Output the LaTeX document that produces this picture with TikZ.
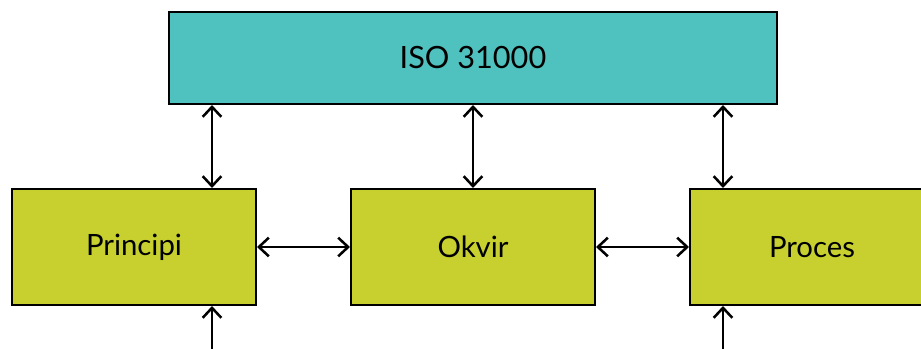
\documentclass[tikz,border=0pt]{standalone}
\usepackage{fontspec}
\setmainfont{Lato}
\usetikzlibrary{arrows.meta}
\definecolor{isoteal}{RGB}{79,193,190}
\definecolor{partgreen}{RGB}{199,208,46}

\begin{document}
\begin{tikzpicture}[x=0.75pt,y=-0.75pt,
    norm/.style ={rectangle, draw, line width=1.5pt, fill=isoteal,
      minimum width=456pt, minimum height=69pt, font=\fontsize{23}{27}\selectfont},
    part/.style ={rectangle, draw, line width=1.5pt, fill=partgreen,
      minimum width=183pt, minimum height=87pt, font=\fontsize{22}{26}\selectfont},
    link/.style ={line width=1.9pt, {Straight Barb[length=7.5pt,width=14pt]}-{Straight Barb[length=7.5pt,width=14pt]}},
    feed/.style ={line width=1.9pt, -{Straight Barb[length=7.5pt,width=14pt]}}]
   \useasboundingbox (0,0) rectangle (921,349);
   \node[norm] (iso) at (473,58) {ISO 31000};
   \node[part] (P) at (134,247) {Principi};
   \node[part] (O) at (473,247) {Okvir};
   \node[part] (R) at (812,247) {Proces};
   \coordinate (c1) at (212,0);
   \coordinate (c2) at (473,0);
   \coordinate (c3) at (723,0);
   \coordinate (lo1) at (212,360);
   \coordinate (lo3) at (723,360);
   \draw[link] (iso.south -| c1) -- (P.north -| c1);
   \draw[link] (iso.south -| c2) -- (O.north -| c2);
   \draw[link] (iso.south -| c3) -- (R.north -| c3);
   \draw[link] (P.east) -- (O.west);
   \draw[link] (O.east) -- (R.west);
   \draw[feed] (lo1) -- (P.south -| lo1);
   \draw[feed] (lo3) -- (R.south -| lo3);
 \end{tikzpicture}
\end{document}
